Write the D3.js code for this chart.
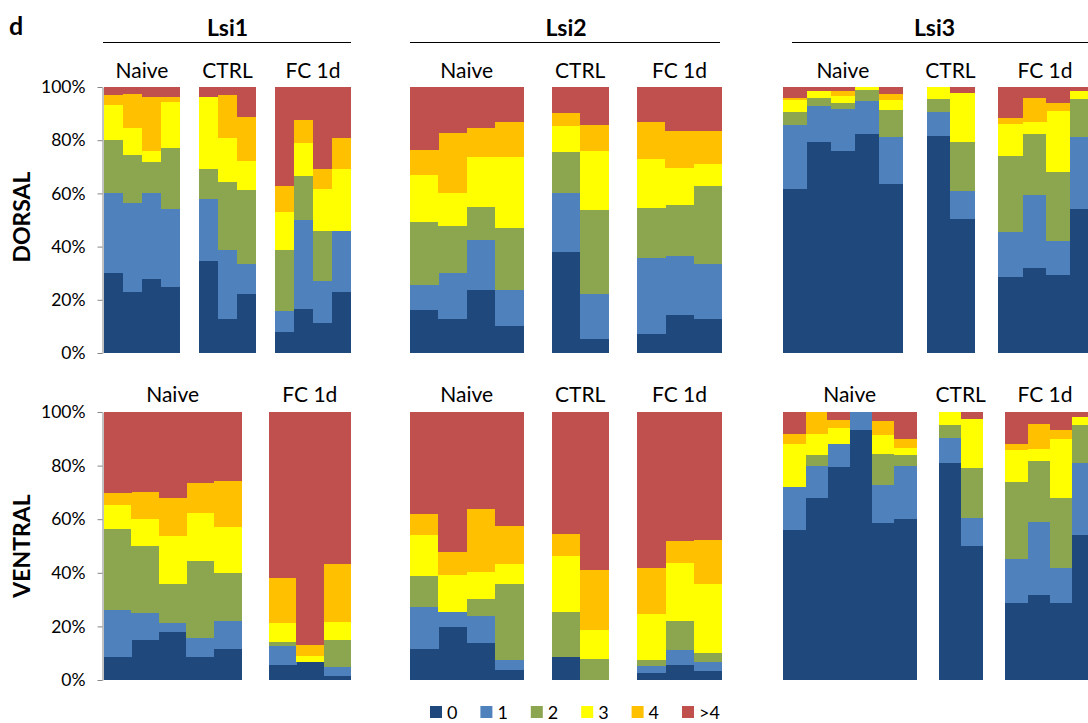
<!DOCTYPE html>
<html>
<head>
<meta charset="utf-8">
<script src="https://cdn.jsdelivr.net/npm/d3@7"></script>
<style>
  html, body { margin: 0; padding: 0; background: #fff; }
  svg { display: block; font-family: Lato, "Open Sans", "Liberation Sans", sans-serif; }
</style>
</head>
<body>
<svg id="chart" width="1088" height="723"></svg>
<script>
// Spine-count classes (stack order, bottom to top)
const categories = ["0", "1", "2", "3", "4", ">4"];
const categoryColors = ["#1F497D", "#4F81BD", "#8CA650", "#FFFF00", "#FFC000", "#C0504D"];
const yTicks = [0, 20, 40, 60, 80, 100];
const genes = ["Lsi1", "Lsi2", "Lsi3"];
const regions = ["DORSAL", "VENTRAL"];

// Percent of spines per class, one row per animal/bar
const lsi1DorsalNaive = [
  [30.0, 30.0, 20.0, 13.3, 3.6, 3.1],
  [22.9, 33.6, 17.9, 10.1, 13.0, 2.5],
  [28.0, 32.0, 11.9, 4.1, 20.2, 3.8],
  [24.9, 29.1, 23.0, 17.2, 2.0, 3.8]
];
const lsi1DorsalCtrl = [
  [34.5, 23.3, 11.3, 27.1, 0.0, 3.8],
  [12.8, 25.9, 25.7, 16.4, 16.1, 3.1],
  [22.1, 11.3, 27.7, 11.1, 16.7, 11.1]
];
const lsi1DorsalFc = [
  [7.8, 8.0, 22.9, 14.4, 9.5, 37.4],
  [16.6, 33.4, 16.6, 12.5, 8.6, 12.3],
  [11.4, 15.5, 19.1, 15.6, 7.5, 30.9],
  [22.9, 23.1, 0.0, 23.1, 11.7, 19.2]
];
const lsi2DorsalNaive = [
  [16.1, 9.5, 23.8, 17.6, 9.4, 23.6],
  [12.8, 17.4, 17.5, 12.6, 22.4, 17.3],
  [23.6, 18.9, 12.3, 18.8, 10.8, 15.6],
  [10.2, 13.4, 23.4, 26.6, 13.3, 13.1]
];
const lsi2DorsalCtrl = [
  [37.8, 22.4, 15.2, 9.8, 5.1, 9.7],
  [5.2, 16.9, 31.8, 22.1, 9.7, 14.3]
];
const lsi2DorsalFc = [
  [7.0, 28.8, 18.7, 18.6, 13.6, 13.3],
  [14.1, 22.2, 19.5, 13.9, 13.8, 16.5],
  [12.7, 20.8, 29.3, 8.3, 12.4, 16.5]
];
const lsi3DorsalNaive = [
  [61.7, 24.1, 4.7, 4.5, 0.9, 4.1],
  [79.5, 13.2, 3.0, 2.9, 0.0, 1.4],
  [75.8, 15.8, 2.5, 2.6, 1.8, 1.5],
  [82.3, 12.4, 4.3, 1.0, 0.0, 0.0],
  [63.4, 17.8, 10.3, 3.7, 2.0, 2.8]
];
const lsi3DorsalCtrl = [
  [81.4, 9.3, 4.9, 4.4, 0.0, 0.0],
  [50.3, 10.7, 18.3, 18.4, 0.0, 2.3]
];
const lsi3DorsalFc = [
  [28.6, 17.0, 28.5, 12.1, 2.1, 11.7],
  [31.8, 27.6, 22.9, 4.4, 9.2, 4.1],
  [29.3, 12.9, 25.9, 22.7, 3.2, 6.0],
  [54.3, 26.9, 14.4, 3.0, 0.0, 1.4]
];
const lsi1VentralNaive = [
  [8.6, 17.5, 30.4, 8.8, 4.4, 30.3],
  [15.0, 9.9, 25.1, 10.1, 10.0, 29.9],
  [17.8, 3.6, 14.4, 17.8, 14.4, 32.0],
  [8.7, 6.9, 28.8, 17.9, 11.1, 26.6],
  [11.7, 10.4, 18.0, 17.1, 17.0, 25.8]
];
const lsi1VentralFc = [
  [5.5, 7.1, 1.5, 7.1, 16.8, 62.0],
  [6.7, 0.0, 0.0, 2.2, 4.3, 86.8],
  [1.5, 3.4, 10.1, 6.8, 21.5, 56.7]
];
const lsi2VentralNaive = [
  [11.7, 15.6, 11.5, 15.4, 7.8, 38.0],
  [19.8, 5.5, 0.0, 14.0, 8.5, 52.2],
  [13.7, 10.0, 6.7, 10.0, 23.3, 36.3],
  [3.9, 3.6, 28.5, 7.1, 14.5, 42.4]
];
const lsi2VentralCtrl = [
  [8.6, 0.0, 16.8, 20.9, 8.3, 45.4],
  [0.0, 0.0, 7.7, 11.0, 22.4, 58.9]
];
const lsi2VentralFc = [
  [2.7, 2.5, 2.3, 17.3, 17.1, 58.1],
  [5.6, 5.5, 10.8, 21.7, 8.1, 48.3],
  [3.4, 3.3, 3.4, 25.7, 16.3, 47.9]
];
const lsi3VentralNaive = [
  [56.0, 16.2, 0.0, 15.7, 4.0, 8.1],
  [68.0, 12.0, 4.0, 7.9, 8.1, 0.0],
  [79.4, 8.8, 0.0, 5.8, 2.9, 3.1],
  [93.4, 6.6, 0.0, 0.0, 0.0, 0.0],
  [58.7, 13.9, 11.8, 6.9, 5.2, 3.5],
  [60.2, 19.5, 4.3, 2.4, 3.4, 10.2]
];
const lsi3VentralCtrl = [
  [80.9, 9.5, 4.9, 4.7, 0.0, 0.0],
  [50.0, 10.6, 18.5, 18.2, 0.0, 2.7]
];
const lsi3VentralFc = [
  [28.6, 16.7, 28.4, 12.0, 2.2, 12.1],
  [31.7, 27.4, 22.6, 4.5, 9.2, 4.6],
  [28.9, 13.0, 25.9, 22.3, 3.2, 6.7],
  [54.1, 26.8, 14.2, 3.2, 0.0, 1.7]
];

// Panels: gene x region, each with its groups of bars
const panels = [
  { gene: 0, region: 0, groups: [["Naive", lsi1DorsalNaive], ["CTRL", lsi1DorsalCtrl], ["FC 1d", lsi1DorsalFc]] },
  { gene: 1, region: 0, groups: [["Naive", lsi2DorsalNaive], ["CTRL", lsi2DorsalCtrl], ["FC 1d", lsi2DorsalFc]] },
  { gene: 2, region: 0, groups: [["Naive", lsi3DorsalNaive], ["CTRL", lsi3DorsalCtrl], ["FC 1d", lsi3DorsalFc]] },
  { gene: 0, region: 1, groups: [["Naive", lsi1VentralNaive], ["FC 1d", lsi1VentralFc]] },
  { gene: 1, region: 1, groups: [["Naive", lsi2VentralNaive], ["CTRL", lsi2VentralCtrl], ["FC 1d", lsi2VentralFc]] },
  { gene: 2, region: 1, groups: [["Naive", lsi3VentralNaive], ["CTRL", lsi3VentralCtrl], ["FC 1d", lsi3VentralFc]] }
];

// ---- layout ----
const geneX = [[104, 351], [410, 722], [783, 1094]];
const regionY = [[353, 87], [680, 412]];
const titleLine = [[103, 351], [410, 720], [792, 1088]];
const groupLabelY = [78, 402];

const svg = d3.select("#chart");

svg.append("text").attr("x", 9).attr("y", 35)
  .attr("font-size", 25).attr("font-weight", "bold").attr("fill", "#000").text("d");

genes.forEach((g, i) => {
  const [a, b] = titleLine[i];
  svg.append("text").attr("x", (geneX[i][0] + geneX[i][1]) / 2 - (i === 2 ? 4 : 0)).attr("y", 36)
    .attr("text-anchor", "middle").attr("font-size", 23).attr("font-weight", "bold").text(g);
  svg.append("line").attr("x1", a).attr("x2", b).attr("y1", 42.5).attr("y2", 42.5)
    .attr("stroke", "#000").attr("stroke-width", 1);
});

regions.forEach((r, i) => {
  const cy = (regionY[i][0] + regionY[i][1]) / 2 + (i === 0 ? -3 : 0);
  svg.append("text")
    .attr("transform", `translate(30,${cy}) rotate(-90)`)
    .attr("text-anchor", "middle").attr("font-size", 23).attr("font-weight", "bold").text(r);
});

const stack = d3.stack().keys(d3.range(categories.length));

panels.forEach(p => {
  // slots: bars plus one empty slot between groups
  const slots = [];
  p.groups.forEach(([name, bars], gi) => {
    if (gi > 0) slots.push({ gap: true, key: `gap${gi}` });
    bars.forEach((vals, bi) => slots.push({ key: `${name}-${bi}`, group: name, vals }));
  });
  const x = d3.scaleBand().domain(slots.map(s => s.key)).range(geneX[p.gene]).paddingInner(0).paddingOuter(0);
  const y = d3.scaleLinear().domain([0, 100]).range(regionY[p.region]);

  const barSlots = slots.filter(s => !s.gap);
  const series = stack(barSlots.map(s => s.vals));

  const g = svg.append("g");
  g.selectAll("g.layer").data(series).join("g")
    .attr("class", "layer")
    .attr("fill", (d, i) => categoryColors[i])
    .selectAll("rect").data((d) => d.map((seg, j) => ({ seg, slot: barSlots[j] })))
    .join("rect")
    .attr("x", d => x(d.slot.key))
    .attr("width", x.bandwidth() + 0.4)
    .attr("y", d => y(d.seg[1]))
    .attr("height", d => Math.max(0, y(d.seg[0]) - y(d.seg[1])))
    .attr("shape-rendering", "crispEdges");

  // group labels
  p.groups.forEach(([name, bars]) => {
    const keys = bars.map((_, bi) => `${name}-${bi}`);
    const x0 = x(keys[0]);
    const x1 = x(keys[keys.length - 1]) + x.bandwidth();
    svg.append("text").attr("x", Math.min((x0 + x1) / 2, 1045)).attr("y", groupLabelY[p.region])
      .attr("text-anchor", "middle").attr("font-size", 21).attr("fill", "#000").text(name);
  });

  // y axis on the first column only
  if (p.gene === 0) {
    const axis = d3.axisLeft(y).tickValues(yTicks).tickSize(5).tickSizeOuter(0)
      .tickFormat(d => d + "%");
    const ax = svg.append("g").attr("transform", `translate(${geneX[0][0] - 1.5},0)`).call(axis);
    ax.select(".domain").attr("stroke", "#868686");
    ax.selectAll(".tick line").attr("stroke", "#868686");
    ax.selectAll(".tick text").attr("x", -17).attr("font-size", 17.5)
      .attr("font-family", "Lato, 'Open Sans', sans-serif").attr("fill", "#000");
  }
});

// legend
const legendX = d3.scalePoint().domain(categories).range([430, 682]);
const lg = svg.append("g");
categories.forEach((c, i) => {
  lg.append("rect").attr("x", legendX(c)).attr("y", 706).attr("width", 12).attr("height", 12)
    .attr("fill", categoryColors[i]);
  lg.append("text").attr("x", legendX(c) + 17).attr("y", 719).attr("font-size", 18).text(c);
});
</script>
</body>
</html>
